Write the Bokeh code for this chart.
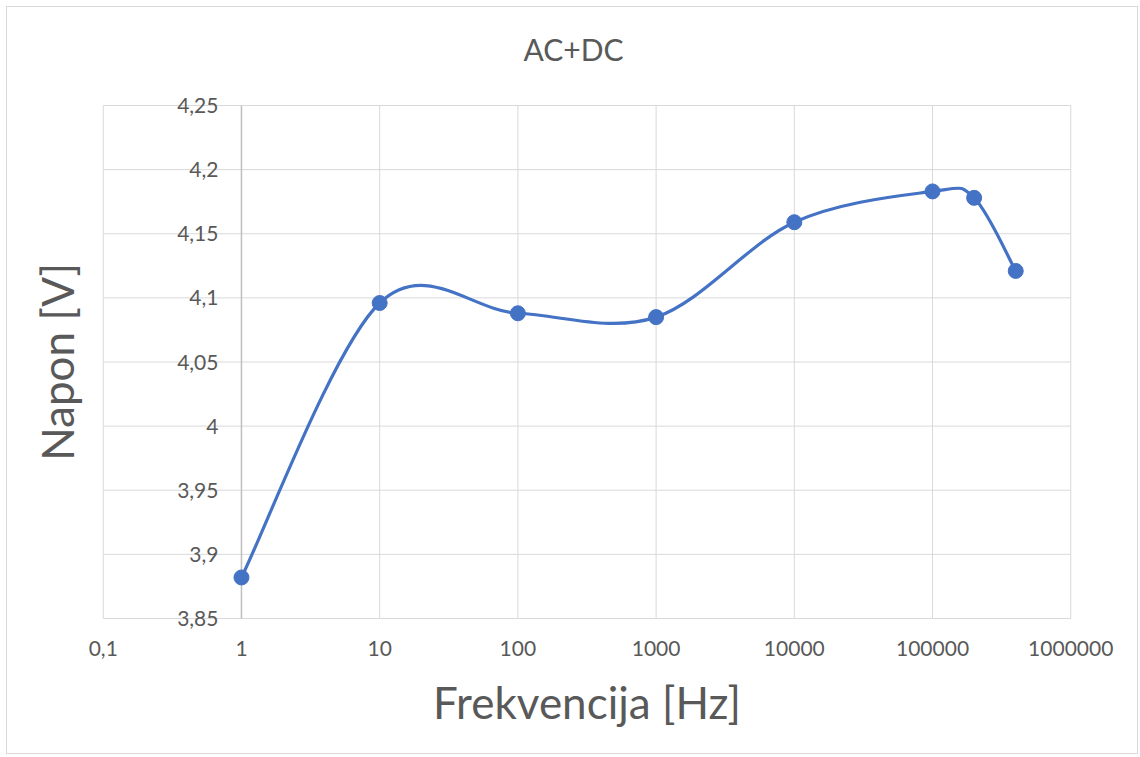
import numpy as np
from bokeh.plotting import figure
from bokeh.models import FixedTicker, Title, Range1d, LabelSet, ColumnDataSource
from bokeh.core.properties import value
from bokeh.embed import file_html
from bokeh.resources import INLINE

# ---- data ----
freq = [1, 10, 100, 1000, 10000, 100000, 200000, 400000]
napon = [3.882, 4.096, 4.088, 4.085, 4.159, 4.183, 4.178, 4.121]

x_ticks = [0.1, 1, 10, 100, 1000, 10000, 100000, 1000000]
x_tick_labels = ["0,1", "1", "10", "100", "1000", "10000", "100000", "1000000"]
y_ticks = [3.85, 3.9, 3.95, 4.0, 4.05, 4.1, 4.15, 4.2, 4.25]
y_tick_labels = ["3,85", "3,9", "3,95", "4", "4,05", "4,1", "4,15", "4,2", "4,25"]
y_axis_cross = 1  # value axis crosses the horizontal axis at x = 1

title_text = "AC+DC"
x_title = "Frekvencija [Hz]"
y_title = "Napon [V]"

FONT = "Lato"
TXT = "#595959"
GRID = "#d9d9d9"
BLUE = "#4472C4"

# small padding around the plot area so that edge tick labels are not clipped
XPAD = 10 ** 0.02
YPAD = 0.0156
xmin, xmax = x_ticks[0], x_ticks[-1]
ymin, ymax = y_ticks[0], y_ticks[-1]

p = figure(width=1132, height=748, x_axis_type="log",
           x_range=Range1d(xmin / XPAD, xmax * XPAD),
           y_range=Range1d(ymin - YPAD, ymax + YPAD),
           output_backend="svg", toolbar_location=None,
           min_border_left=93, min_border_right=66,
           min_border_top=78, min_border_bottom=117)
p.styles = {"border": "1px solid #d9d9d9", "margin": "6px 0 0 6px"}
p.outline_line_color = None
p.xgrid.visible = False
p.ygrid.visible = False

# title
p.title.text = title_text
p.title.align = "left"
p.title.offset = 423
p.title.text_font = FONT
p.title.text_font_size = "30px"
p.title.text_font_style = "normal"
p.title.text_color = TXT
p.title.standoff = 38

# y title on the left
yt = Title(text=y_title, align="center", text_font=FONT, text_font_size="44px",
           text_font_style="normal", text_color=TXT, standoff=35)
p.add_layout(yt, "left")

# x axis
p.xaxis.ticker = FixedTicker(ticks=x_ticks)
p.xaxis.major_label_overrides = {t: l for t, l in zip(x_ticks, x_tick_labels)}
p.xaxis.axis_label = x_title
p.xaxis.axis_label_text_font = FONT
p.xaxis.axis_label_text_font_size = "44px"
p.xaxis.axis_label_text_font_style = "normal"
p.xaxis.axis_label_text_color = TXT
p.xaxis.axis_label_standoff = 17
p.xaxis.major_label_text_font = FONT
p.xaxis.major_label_text_font_size = "21px"
p.xaxis.major_label_text_color = TXT
p.xaxis.major_label_standoff = -4
p.xaxis.major_tick_line_color = None
p.xaxis.minor_tick_line_color = None
p.xaxis.axis_line_color = None
p.yaxis.visible = False

# gridlines of the plot area
p.segment(x0=x_ticks, y0=[ymin] * len(x_ticks), x1=x_ticks, y1=[ymax] * len(x_ticks),
          line_color=GRID, line_width=1)
p.segment(x0=[xmin] * len(y_ticks), y0=y_ticks, x1=[xmax] * len(y_ticks), y1=y_ticks,
          line_color=GRID, line_width=1)
# value axis line at x = 1
p.segment(x0=[y_axis_cross], y0=[ymin], x1=[y_axis_cross], y1=[ymax],
          line_color="#bfbfbf", line_width=1.5)

# value axis labels
ysrc = ColumnDataSource(dict(x=[y_axis_cross] * len(y_ticks), y=y_ticks, text=y_tick_labels))
p.add_layout(LabelSet(x="x", y="y", text="text", source=ysrc, x_offset=-23,
                      text_align="right", text_baseline="middle",
                      text_font=value(FONT), text_font_size=value("21px"),
                      text_color=TXT))

# smooth (Catmull-Rom style) curve in log-x space, drawn as bezier segments
lx = np.log10(np.array(freq, dtype=float))
yy = np.array(napon, dtype=float)
n = len(lx)
x0, y0, x1, y1, cx0, cy0, cx1, cy1 = [], [], [], [], [], [], [], []
for i in range(n - 1):
    ip = max(i - 1, 0)
    inx = min(i + 2, n - 1)
    c0x = lx[i] + (lx[i + 1] - lx[ip]) / 6.0
    c0y = yy[i] + (yy[i + 1] - yy[ip]) / 6.0
    c1x = lx[i + 1] - (lx[inx] - lx[i]) / 6.0
    c1y = yy[i + 1] - (yy[inx] - yy[i]) / 6.0
    x0.append(10 ** lx[i]); y0.append(yy[i])
    x1.append(10 ** lx[i + 1]); y1.append(yy[i + 1])
    cx0.append(10 ** c0x); cy0.append(c0y)
    cx1.append(10 ** c1x); cy1.append(c1y)

p.bezier(x0=x0, y0=y0, x1=x1, y1=y1, cx0=cx0, cy0=cy0, cx1=cx1, cy1=cy1,
         line_color=BLUE, line_width=3.2)
p.scatter(freq, napon, size=15, marker="circle", fill_color=BLUE, line_color=BLUE)

open("out.html", "w").write(file_html(p, INLINE))
